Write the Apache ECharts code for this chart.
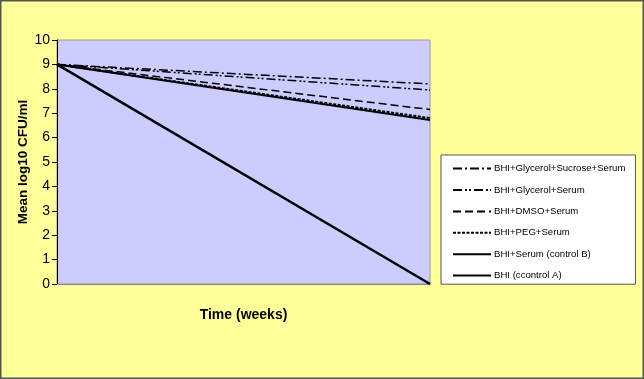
<!DOCTYPE html>
<html><head><meta charset="utf-8">
<script src="https://cdn.jsdelivr.net/npm/echarts@6/dist/echarts.min.js"></script>
<style>html,body{margin:0;padding:0;background:#FFFF99;}#c{width:644px;height:379px;}</style>
</head><body><div id="c"></div>
<script>
const timePoints = ['start', 'end'];
const yTicks = [0,1,2,3,4,5,6,7,8,9,10];
const seriesNames = ['BHI+Glycerol+Sucrose+Serum','BHI+Glycerol+Serum','BHI+DMSO+Serum','BHI+PEG+Serum','BHI+Serum (control B)','BHI (ccontrol A)'];
const glycSucSerum = [9, 8.2];
const glycSerum = [9, 7.95];
const dmsoSerum = [9, 7.15];
const pegSerum = [9, 6.8];
const serumB = [9, 6.72];
const controlA = [9, 0];

const values = [glycSucSerum, glycSerum, dmsoSerum, pegSerum, serumB, controlA];
const styles = [
  {type:[9,3,2,3], width:1.5},
  {type:[9,3,2,2,2,3], width:1.5},
  {type:[8,4], width:1.5},
  {type:[3,1.5], width:2},
  {type:'solid', width:2},
  {type:'solid', width:2.5}
];
const chart = echarts.init(document.getElementById('c'));
chart.setOption({
  backgroundColor:'#FFFF99',
  animation:false,
  textStyle:{fontFamily:'Liberation Sans'},
  grid:{left:57, top:40, right:214, bottom:95, show:true, backgroundColor:'#CCCCFF', borderColor:'#999', borderWidth:1},
  xAxis:{type:'category', data:timePoints, boundaryGap:false,
    axisLabel:{show:false}, axisTick:{show:false},
    axisLine:{lineStyle:{color:'#888', width:1}},
    name:'Time (weeks)', nameLocation:'middle', nameGap:24,
    nameTextStyle:{fontWeight:'bold', fontSize:14, color:'#000'}},
  yAxis:{type:'value', min:yTicks[0], max:yTicks[yTicks.length-1], interval:1,
    splitLine:{show:false},
    axisLine:{show:true, lineStyle:{color:'#000', width:1}},
    axisTick:{show:true, length:5, inside:false, lineStyle:{color:'#000'}},
    axisLabel:{color:'#000', fontSize:14, margin:7},
    name:'Mean log10 CFU/ml', nameLocation:'middle', nameGap:27, nameMoveOverlap:false,
    nameTextStyle:{fontWeight:'bold', fontSize:13.5, color:'#000'}},
  legend:{orient:'vertical', left:441, top:155, data:seriesNames,
    backgroundColor:'#fff', borderColor:'#555', borderWidth:1,
    padding:[8,10,3,11], itemGap:10.2, itemWidth:38, itemHeight:14,
    itemStyle:{opacity:0},
    textStyle:{fontSize:9.6, color:'#000', padding:[0,0,0,-2]}},
  graphic:[{type:'rect', shape:{x:0.75, y:0.75, width:642.5, height:377.5}, style:{fill:'none', stroke:'#555', lineWidth:1.5}, z:100}],
  series: seriesNames.map((n,i)=>({
    name:n, type:'line', data:values[i], symbol:'none', showSymbol:false,
    lineStyle:{color:'#000', type:styles[i].type, width:styles[i].width},
    itemStyle:{color:'#000'}
  }))
});
</script></body></html>
